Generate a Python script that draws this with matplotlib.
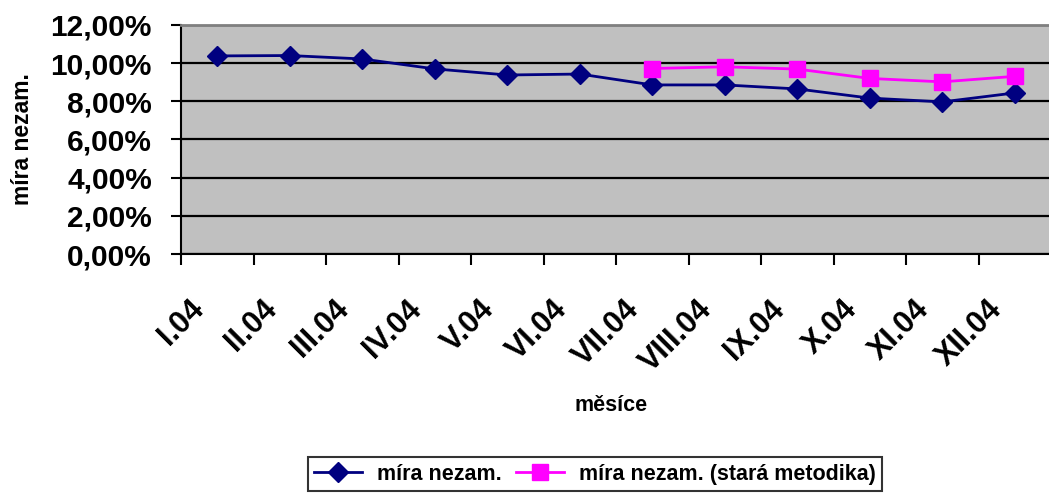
import matplotlib
matplotlib.use("Agg")
import matplotlib.pyplot as plt
import matplotlib.transforms as mtransforms
from matplotlib.ticker import FuncFormatter, FixedLocator, NullFormatter

plt.rcParams['font.family'] = ['Liberation Sans', 'DejaVu Sans']
plt.rcParams['font.weight'] = 'bold'

months = ['I.04', 'II.04', 'III.04', 'IV.04', 'V.04', 'VI.04',
          'VII.04', 'VIII.04', 'IX.04', 'X.04', 'XI.04', 'XII.04']
# unemployment rate (%)
mira = [10.38, 10.40, 10.22, 9.70, 9.38, 9.43, 8.86, 8.86, 8.65, 8.17, 7.97, 8.44]
# old methodology, only from July
stara_months = months[6:]
stara = [9.72, 9.81, 9.69, 9.20, 9.02, 9.31]

fig = plt.figure(figsize=(10.49, 4.94), dpi=100)
ax = fig.add_axes([181 / 1049, 1 - 254 / 494, 870 / 1049, 229 / 494])
ax.set_facecolor('#C0C0C0')

x_all = list(range(len(months)))
x_old = [months.index(m) for m in stara_months]

ax.plot(x_all, mira, color='#000080', lw=2, marker='D', ms=10,
        label='míra nezam.', zorder=3)
ax.plot(x_old, stara, color='#FF00FF', lw=2, marker='s', ms=11,
        label='míra nezam. (stará metodika)', zorder=3)

ax.set_ylim(0, 12)
ax.set_xlim(-0.5, 11.5)
ax.set_yticks([0, 2, 4, 6, 8, 10, 12])
ax.yaxis.set_major_formatter(FuncFormatter(lambda v, p: f'{v:.2f}'.replace('.', ',') + '%'))
ax.grid(axis='y', color='black', lw=1.6)
ax.set_axisbelow(True)

# category boundaries as ticks, labels drawn at the centres
ax.xaxis.set_major_locator(FixedLocator([i - 0.5 for i in range(12)]))
ax.xaxis.set_major_formatter(NullFormatter())
ax.tick_params(axis='x', which='major', length=8, width=1.5, direction='out')
ax.tick_params(axis='y', length=7, width=1.5, direction='out', pad=14,
               labelsize=21.5)
for lbl in ax.get_yticklabels():
    lbl.set_fontweight('bold')

lab_tr = mtransforms.blended_transform_factory(ax.transData, ax.transAxes) + \
    mtransforms.ScaledTranslation(-7 / 100, -40 / 100, fig.dpi_scale_trans)
for x, m in zip(x_all, months):
    ax.text(x, 0, m, transform=lab_tr, rotation=45, ha='right', va='top',
            fontsize=22, fontweight='bold')

for side in ['left', 'bottom']:
    ax.spines[side].set_color('black')
    ax.spines[side].set_linewidth(1.5)
ax.spines['top'].set_color('#808080')
ax.spines['top'].set_linewidth(2)
ax.spines['right'].set_visible(False)

ax.set_ylabel('míra nezam.', fontsize=16.5, fontweight='bold')
ax.yaxis.set_label_coords(-0.169, 0.5)
fig.text(611 / 1049, 1 - 405 / 494, 'měsíce', fontsize=15.5, fontweight='bold',
         ha='center', va='center')

leg = fig.legend(loc='center', bbox_to_anchor=(595 / 1049, 1 - 474 / 494),
                 ncol=2, fontsize=15.5, frameon=True, fancybox=False,
                 edgecolor='black', handlelength=2.2, columnspacing=0.7,
                 handletextpad=0.7, borderpad=0.3)
leg.get_frame().set_linewidth(1.5)
for t in leg.get_texts():
    t.set_fontweight('bold')

fig.savefig('out.png', dpi=100)
